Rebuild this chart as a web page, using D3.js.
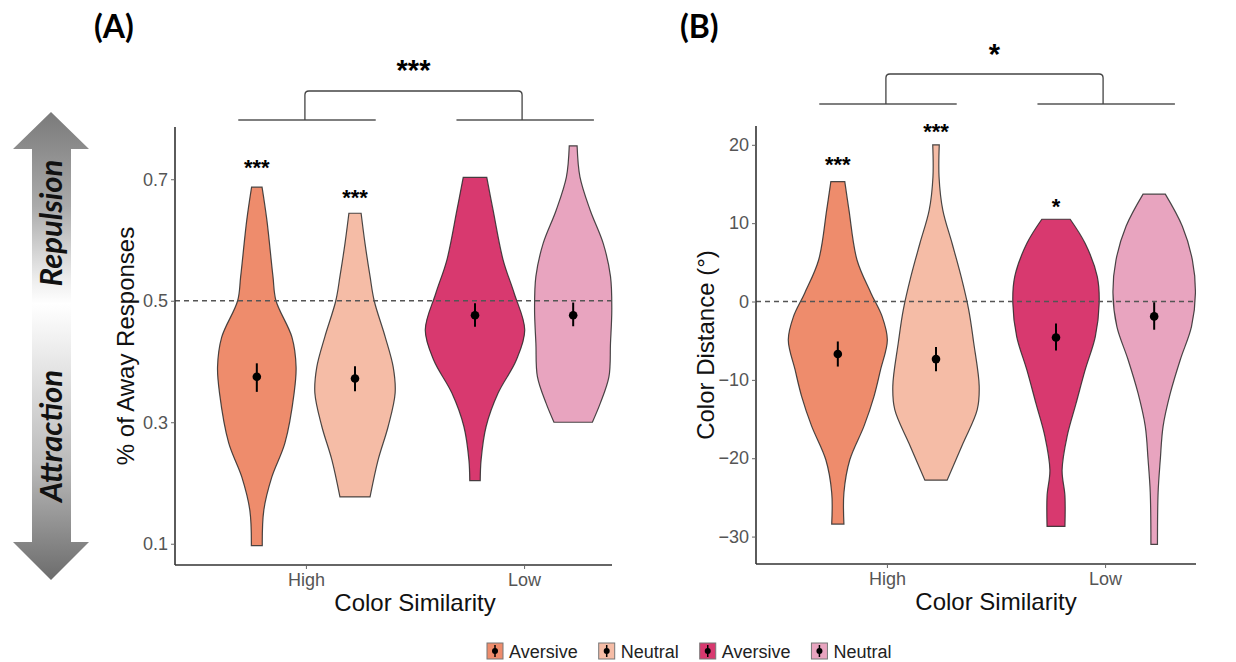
<!DOCTYPE html>
<html>
<head>
<meta charset="utf-8">
<script src="https://cdn.jsdelivr.net/npm/d3@7"></script>
<style>
  body { margin: 0; background: #fff; }
  text { font-family: "Liberation Sans", Arial, sans-serif; }
</style>
</head>
<body>
<svg id="chart" width="1236" height="662"></svg>
<script>
// ---- data ----
const similarity = ["High", "Low"];
const condition = ["Aversive", "Neutral"];
const fills = ["#ee8c6c", "#f5bca6", "#d8396f", "#e8a4bf"];
const legendLabels = ["Aversive", "Neutral", "Aversive", "Neutral"];

// violin outlines: [value, half width in category units], top to bottom
const awayHighAv = [[0.687,0.024],[0.633,0.046],[0.54,0.074],[0.5,0.088],[0.44,0.161],[0.391,0.180],[0.348,0.171],[0.266,0.129],[0.21,0.069],[0.155,0.032],[0.097,0.025]];
const awayHighNe = [[0.644,0.028],[0.594,0.046],[0.54,0.069],[0.5,0.088],[0.441,0.138],[0.391,0.175],[0.348,0.184],[0.293,0.152],[0.238,0.106],[0.177,0.069]];
const awayLowAv  = [[0.703,0.054],[0.649,0.083],[0.567,0.129],[0.512,0.180],[0.452,0.228],[0.402,0.189],[0.348,0.106],[0.293,0.051],[0.238,0.028],[0.204,0.024]];
const awayLowNe  = [[0.755,0.018],[0.704,0.031],[0.649,0.078],[0.594,0.138],[0.54,0.171],[0.485,0.177],[0.43,0.171],[0.375,0.164],[0.331,0.124],[0.3,0.088]];

const distHighAv = [[15.3,0.032],[11.7,0.051],[5.3,0.088],[1.07,0.152],[-1.9,0.203],[-4.9,0.227],[-8.7,0.196],[-12.1,0.166],[-15.9,0.120],[-20.2,0.055],[-24.4,0.028],[-28.4,0.028]];
const distHighNe = [[20,0.015],[15.9,0.014],[11.7,0.031],[7.4,0.074],[3.2,0.115],[-1.06,0.150],[-5.3,0.173],[-10.8,0.198],[-13.8,0.189],[-18.1,0.124],[-22.8,0.051]];
const distLowAv  = [[10.5,0.065],[7.4,0.134],[3.2,0.189],[-0.2,0.198],[-4.5,0.180],[-8.7,0.134],[-13,0.092],[-17.2,0.051],[-21.5,0.028],[-24.8,0.041],[-28.7,0.041]];
const distLowNe  = [[13.7,0.051],[9.6,0.129],[5.3,0.175],[1.07,0.189],[-3.2,0.171],[-7.4,0.120],[-11.7,0.074],[-15.9,0.041],[-20.2,0.028],[-24.4,0.018],[-31,0.015]];

// mean and SE, order: High-Aversive, High-Neutral, Low-Aversive, Low-Neutral
const awayMean = [0.375, 0.372, 0.476, 0.476];
const awayLo   = [0.350, 0.351, 0.457, 0.458];
const awayHi   = [0.397, 0.392, 0.496, 0.497];
const distMean = [-6.7, -7.35, -4.6, -1.9];
const distLo   = [-8.3, -8.9, -6.25, -3.6];
const distHi   = [-5.1, -5.8, -2.8, -0.1];

const awayStars = ["***", "***", "", ""];
const awayStarY = [0.727, 0.677, null, null];
const distStars = ["***", "***", "*", ""];
const distStarY = [18.1, 22.3, 12.7, null];

const awayTicks = [0.1, 0.3, 0.5, 0.7];
const distTicks = [-30, -20, -10, 0, 10, 20];

const svg = d3.select("#chart");

// ---- left arrow ----
const defs = svg.append("defs");
const grad = defs.append("linearGradient").attr("id", "arrowGrad")
  .attr("x1", 0).attr("y1", 0).attr("x2", 0).attr("y2", 1);
[[0, "#7a7a7a"], [0.2, "#aaaaaa"], [0.36, "#eeeeee"], [0.41, "#ffffff"], [0.5, "#eeeeee"], [0.75, "#bbbbbb"], [1, "#6c6c6c"]]
  .forEach(s => grad.append("stop").attr("offset", s[0]).attr("stop-color", s[1]));

const arrowPts = [[51,112],[89,149],[71,149],[71,542],[89,542],[51,580],[13,542],[32,542],[32,149],[13,149]];
svg.append("polygon")
  .attr("points", arrowPts.map(p => p.join(",")).join(" "))
  .attr("fill", "url(#arrowGrad)");

[["Repulsion", 223], ["Attraction", 436]].forEach(([w, cy]) => {
  svg.append("text").text(w)
    .attr("transform", `translate(62,${cy}) rotate(-90)`)
    .attr("text-anchor", "middle")
    .style("font-family", "Lato, 'Open Sans', sans-serif")
    .style("font-weight", "bold").style("font-style", "italic")
    .style("font-size", "31px").attr("fill", "#111");
});

// ---- panels ----
function drawPanel(cfg) {
  const g = svg.append("g");
  const x = d3.scalePoint().domain(similarity).range([cfg.left, cfg.left + 480]).padding(0.6);
  const step = x.step();
  const y = d3.scaleLinear().domain(cfg.yDomain).range([cfg.bottom, cfg.top]);
  const dodge = (i) => x(similarity[Math.floor(i / 2)]) + ((i % 2) - 0.5) * 0.45 * step;

  // violins
  cfg.violins.forEach((prof, i) => {
    const cx = dodge(i);
    const area = d3.area()
      .y(d => y(d[0]))
      .x0(d => cx - d[1] * step)
      .x1(d => cx + d[1] * step)
      .curve(d3.curveCatmullRom.alpha(0.5));
    g.append("path")
      .attr("d", area(prof))
      .attr("fill", fills[i])
      .attr("stroke", "#2a2a2a").attr("stroke-width", 1.2)
      .attr("stroke-opacity", 0.85);
  });

  // reference line drawn over violins
  g.append("line")
    .attr("x1", cfg.left).attr("x2", cfg.right)
    .attr("y1", y(cfg.ref)).attr("y2", y(cfg.ref))
    .attr("stroke", "#555").attr("stroke-width", 1.5)
    .attr("stroke-dasharray", "5,4");

  // point ranges
  cfg.mean.forEach((m, i) => {
    const cx = dodge(i);
    g.append("line")
      .attr("x1", cx).attr("x2", cx)
      .attr("y1", y(cfg.lo[i])).attr("y2", y(cfg.hi[i]))
      .attr("stroke", "#000").attr("stroke-width", 2);
    g.append("circle").attr("cx", cx).attr("cy", y(m)).attr("r", 4.3).attr("fill", "#000");
  });

  // significance stars
  cfg.stars.forEach((s, i) => {
    if (!s) return;
    g.append("text").text(s)
      .attr("x", dodge(i)).attr("y", y(cfg.starY[i]) + 12)
      .attr("text-anchor", "middle")
      .style("font-size", "22px").style("font-weight", "bold").attr("fill", "#000");
  });

  // axes
  const ya = g.append("g").attr("transform", `translate(${cfg.left},0)`)
    .call(d3.axisLeft(y).tickValues(cfg.ticks).tickSize(4).tickPadding(3).tickFormat(cfg.fmt));
  ya.select(".domain").attr("d", `M0,${cfg.top}V${cfg.bottom}`);
  const xa = g.append("g").attr("transform", `translate(0,${cfg.bottom})`)
    .call(d3.axisBottom(x).tickSize(4).tickPadding(4));
  xa.select(".domain").attr("d", `M${cfg.left},0H${cfg.right}`);
  [ya, xa].forEach(a => {
    a.select(".domain").attr("stroke", "#333").attr("stroke-width", 1.6);
    a.selectAll(".tick line").attr("stroke", "#666").attr("stroke-width", 1);
    a.selectAll(".tick text").attr("fill", "#555").style("font-size", "18px")
      .style("font-family", "'Liberation Sans', Arial, sans-serif");
  });

  // axis titles
  g.append("text").text("Color Similarity")
    .attr("x", cfg.left + 240).attr("y", cfg.bottom + 46)
    .attr("text-anchor", "middle").style("font-size", "24px").attr("fill", "#111");
  g.append("text").text(cfg.yTitle)
    .attr("transform", `translate(${cfg.yTitleX},${(cfg.top + cfg.bottom) / 2}) rotate(-90)`)
    .attr("text-anchor", "middle").style("font-size", "24px").attr("fill", "#111");

  // panel letter
  g.append("text").text(cfg.letter)
    .attr("x", cfg.letterX).attr("y", 38)
    .style("font-family", "Lato, 'Open Sans', sans-serif")
    .style("font-weight", "bold").style("font-size", "32px").attr("fill", "#000");

  // group comparison bracket
  const b = cfg.bracket;
  similarity.forEach(s => {
    g.append("line")
      .attr("x1", x(s) - 0.31 * step).attr("x2", x(s) + 0.32 * step)
      .attr("y1", b.base).attr("y2", b.base)
      .attr("stroke", "#555").attr("stroke-width", 1.3);
  });
  const bx1 = x(similarity[0]) - 1, bx2 = x(similarity[1]) - 2;
  g.append("path")
    .attr("d", `M${bx1},${b.base}V${b.top + 4}Q${bx1},${b.top} ${bx1 + 4},${b.top}H${bx2 - 4}Q${bx2},${b.top} ${bx2},${b.top + 4}V${b.base}`)
    .attr("fill", "none").attr("stroke", "#444").attr("stroke-width", 1.3);
  g.append("text").text(b.label)
    .attr("x", (bx1 + bx2) / 2).attr("y", b.labelY)
    .attr("text-anchor", "middle")
    .style("font-weight", "bold").style("font-size", "29px").attr("fill", "#000");
}

drawPanel({
  left: 175, right: 612, top: 127, bottom: 565,
  yDomain: [0.065, 0.786], ref: 0.5, ticks: awayTicks, fmt: d3.format(".1f"),
  violins: [awayHighAv, awayHighNe, awayLowAv, awayLowNe],
  mean: awayMean, lo: awayLo, hi: awayHi,
  stars: awayStars, starY: awayStarY,
  yTitle: "% of Away Responses", yTitleX: 134,
  letter: "(A)", letterX: 94,
  bracket: { base: 120, top: 91, label: "***", labelY: 80 }
});

drawPanel({
  left: 756, right: 1196, top: 126, bottom: 564,
  yDomain: [-33.5, 22.4], ref: 0, ticks: distTicks, fmt: d3.format("d"),
  violins: [distHighAv, distHighNe, distLowAv, distLowNe],
  mean: distMean, lo: distLo, hi: distHi,
  stars: distStars, starY: distStarY,
  yTitle: "Color Distance (°)", yTitleX: 714,
  letter: "(B)", letterX: 680,
  bracket: { base: 104, top: 74, label: "*", labelY: 64 }
});

// ---- legend ----
const leg = svg.append("g").attr("transform", "translate(487,651)");
let lx = 0;
legendLabels.forEach((lab, i) => {
  const item = leg.append("g").attr("transform", `translate(${lx},0)`);
  item.append("rect").attr("x", 0).attr("y", -8).attr("width", 16).attr("height", 16)
    .attr("fill", fills[i]).attr("stroke", "#777").attr("stroke-width", 1);
  item.append("line").attr("x1", 8).attr("x2", 8).attr("y1", -6).attr("y2", 6)
    .attr("stroke", "#000").attr("stroke-width", 1.5);
  item.append("circle").attr("cx", 8).attr("cy", 0).attr("r", 3).attr("fill", "#000");
  const t = item.append("text").text(lab).attr("x", 22).attr("y", 6.5)
    .style("font-size", "18px").attr("fill", "#222");
  lx += 22 + t.node().getComputedTextLength() + 21;
});
</script>
</body>
</html>
